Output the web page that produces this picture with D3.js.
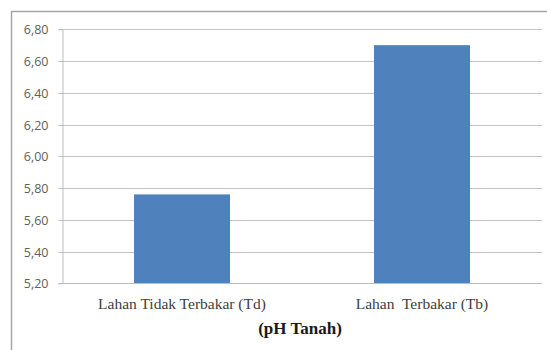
<!DOCTYPE html>
<html>
<head>
<meta charset="utf-8">
<script src="https://cdn.jsdelivr.net/npm/d3@7"></script>
<style>
  html, body { margin: 0; padding: 0; background: #fff; }
  svg { display: block; }
  .serif { font-family: "Liberation Serif", "DejaVu Serif", "Times New Roman", Times, serif; }
</style>
</head>
<body>
<svg id="chart" width="547" height="350"></svg>
<script>
// Soil pH for unburned vs. burned land
const categories = ["Lahan Tidak Terbakar (Td)", "Lahan  Terbakar (Tb)"];
const phValues = [5.76, 6.70];
const yTicks = [5.20, 5.40, 5.60, 5.80, 6.00, 6.20, 6.40, 6.60, 6.80];
const axisTitle = "(pH Tanah)";

const svg = d3.select("#chart");
const W = 547, H = 350;
const plot = { left: 62, right: 542, top: 29.3, bottom: 283.3 };

// outer chart frame (only top and left edges fall inside the view)
svg.append("rect")
  .attr("x", 11.5).attr("y", 11.5)
  .attr("width", W + 10).attr("height", H + 10)
  .attr("fill", "#fff")
  .attr("stroke", "#a6a6a6").attr("stroke-width", 1.5);

const x = d3.scaleBand()
  .domain(categories)
  .range([plot.left, plot.right])
  .paddingInner(0.6).paddingOuter(0.3);

const y = d3.scaleLinear()
  .domain([5.20, 6.80])
  .range([plot.bottom, plot.top]);

const fmt = v => d3.format(".2f")(v).replace(".", ",");

// horizontal gridlines
svg.append("g")
  .selectAll("line")
  .data(yTicks.slice(1))
  .join("line")
  .attr("x1", plot.left).attr("x2", plot.right)
  .attr("y1", d => Math.round(y(d)) + 0.5).attr("y2", d => Math.round(y(d)) + 0.5)
  .attr("stroke", "#c4c4c4").attr("stroke-width", 1);

// y axis
const yAxis = d3.axisLeft(y)
  .tickValues(yTicks)
  .tickFormat(fmt)
  .tickSize(4)
  .tickPadding(10);
const gy = svg.append("g")
  .attr("transform", `translate(${plot.left + 0.5},0)`)
  .call(yAxis);
gy.attr("font-family", "'Open Sans', 'DejaVu Sans', sans-serif").attr("font-size", 12.5);
gy.select(".domain").attr("stroke", "#bdbdbd");
gy.selectAll(".tick line").attr("stroke", "#bdbdbd");
gy.selectAll(".tick").attr("transform", d => `translate(0,${Math.round(y(d)) + 0.5})`);
gy.selectAll(".tick text").attr("fill", "#606060");

// bars
svg.append("g")
  .selectAll("rect")
  .data(categories)
  .join("rect")
  .attr("x", d => x(d))
  .attr("width", x.bandwidth())
  .attr("y", (d, i) => y(phValues[i]))
  .attr("height", (d, i) => y(5.20) - y(phValues[i]))
  .attr("fill", "#4f81bd");

// x axis line along the baseline
svg.append("line")
  .attr("x1", plot.left).attr("x2", plot.right)
  .attr("y1", Math.round(y(5.20)) + 0.5).attr("y2", Math.round(y(5.20)) + 0.5)
  .attr("stroke", "#bdbdbd");

// category labels
svg.append("g")
  .selectAll("text")
  .data(categories)
  .join("text")
  .attr("class", "serif")
  .attr("x", d => x(d) + x.bandwidth() / 2)
  .attr("y", 309)
  .attr("text-anchor", "middle")
  .attr("fill", "#404040")
  .attr("font-size", 15.5)
  .attr("xml:space", "preserve")
  .style("white-space", "pre")
  .text(d => d);

// axis title
svg.append("text")
  .attr("class", "serif")
  .attr("x", 300)
  .attr("y", 334)
  .attr("text-anchor", "middle")
  .attr("fill", "#1a1a1a")
  .attr("font-size", 17)
  .attr("font-weight", "bold")
  .text(axisTitle);
</script>
</body>
</html>
